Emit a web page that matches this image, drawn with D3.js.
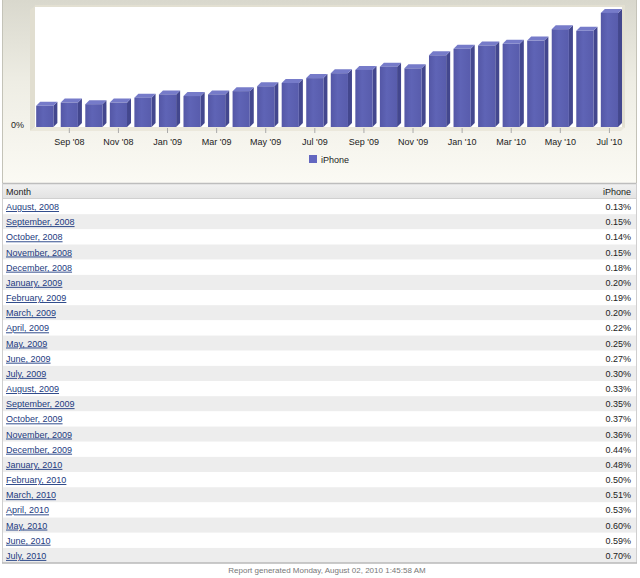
<!DOCTYPE html>
<html>
<head>
<meta charset="utf-8">
<script src="https://cdn.jsdelivr.net/npm/d3@7"></script>
<style>
  body { margin: 0; background: #fff; }
  svg { display: block; font-family: Arial, "Liberation Sans", sans-serif; }
  .link { fill: #1c3a80; text-decoration: underline; }
</style>
</head>
<body>
<div id="target"></div>
<script>
const months = [
  'August, 2008', 'September, 2008', 'October, 2008', 'November, 2008', 'December, 2008',
  'January, 2009', 'February, 2009', 'March, 2009', 'April, 2009', 'May, 2009', 'June, 2009',
  'July, 2009', 'August, 2009', 'September, 2009', 'October, 2009', 'November, 2009',
  'December, 2009', 'January, 2010', 'February, 2010', 'March, 2010', 'April, 2010',
  'May, 2010', 'June, 2010', 'July, 2010',
];
const shortMonths = [
  "Aug '08", "Sep '08", "Oct '08", "Nov '08", "Dec '08", "Jan '09", "Feb '09", "Mar '09",
  "Apr '09", "May '09", "Jun '09", "Jul '09", "Aug '09", "Sep '09", "Oct '09", "Nov '09",
  "Dec '09", "Jan '10", "Feb '10", "Mar '10", "Apr '10", "May '10", "Jun '10", "Jul '10",
];
const tickLabels = [
  "Sep '08", "Nov '08", "Jan '09", "Mar '09", "May '09", "Jul '09",
  "Sep '09", "Nov '09", "Jan '10", "Mar '10", "May '10", "Jul '10",
];
const iphone = [
  0.13, 0.15, 0.14, 0.15, 0.18, 0.20, 0.19, 0.20, 0.22, 0.25, 0.27, 0.30,
  0.33, 0.35, 0.37, 0.36, 0.44, 0.48, 0.50, 0.51, 0.53, 0.60, 0.59, 0.70,
];
const seriesName = 'iPhone';
const footer = 'Report generated Monday, August 02, 2010 1:45:58 AM';

const width = 640;
const height = 578;
const base = 127;
const depth = 4;

const svg = d3.select('#target').append('svg').attr('width', width).attr('height', height);
const defs = svg.append('defs');

const bg = defs.append('linearGradient').attr('id', 'bg').attr('x1', 0).attr('y1', 0).attr('x2', 0).attr('y2', 1);
bg.append('stop').attr('offset', '0%').attr('stop-color', '#d9d8cd');
bg.append('stop').attr('offset', '45%').attr('stop-color', '#eeede4');
bg.append('stop').attr('offset', '100%').attr('stop-color', '#fbfaf4');

const front = defs.append('linearGradient').attr('id', 'front').attr('x1', 0).attr('y1', 0).attr('x2', 1).attr('y2', 0);
front.append('stop').attr('offset', '0%').attr('stop-color', '#5457a6');
front.append('stop').attr('offset', '40%').attr('stop-color', '#5f64b6');
front.append('stop').attr('offset', '100%').attr('stop-color', '#585cac');

const head = defs.append('linearGradient').attr('id', 'head').attr('x1', 0).attr('y1', 0).attr('x2', 0).attr('y2', 1);
head.append('stop').attr('offset', '0%').attr('stop-color', '#f2f2f2');
head.append('stop').attr('offset', '100%').attr('stop-color', '#e2e2e2');

// chart panel
svg.append('rect').attr('x', 2).attr('y', 0).attr('width', 634).attr('height', 183).attr('fill', 'url(#bg)');
svg.append('line').attr('x1', 2.5).attr('x2', 2.5).attr('y1', 0).attr('y2', 183).attr('stroke', '#c4c3b8');
svg.append('line').attr('x1', 636.5).attr('x2', 636.5).attr('y1', 0).attr('y2', 183).attr('stroke', '#c4c3b8');

const x = d3.scaleBand().domain(shortMonths).range([32.5, 621.7]).paddingInner(0.3).paddingOuter(0.15);
const y = d3.scaleLinear().domain([0, 0.73]).range([base, 8]);

// walls
svg.append('rect').attr('x', 35).attr('y', 5).attr('width', 590).attr('height', 123)
  .attr('fill', '#e3e0d2');
svg.append('rect').attr('x', 35).attr('y', 7).attr('width', 587).attr('height', 120).attr('fill', '#fff');
svg.append('polygon').attr('points', '30,10 35,6 35,127 30,131').attr('fill', '#e1ded0');
svg.append('polygon').attr('points', '30,131 35,127 625,127 621,131').attr('fill', '#ebe8dc');

const bars = svg.append('g').selectAll('g').data(iphone).enter().append('g');
bars.append('polygon')
  .attr('points', (d, i) => {
    const x0 = x(shortMonths[i]) + x.bandwidth();
    return [[x0, y(d)], [x0 + depth, y(d) - depth], [x0 + depth, base - depth], [x0, base]].join(' ');
  })
  .attr('fill', '#43478e');
bars.append('polygon')
  .attr('points', (d, i) => {
    const x0 = x(shortMonths[i]);
    const x1 = x0 + x.bandwidth();
    return [[x0, y(d)], [x0 + depth, y(d) - depth], [x1 + depth, y(d) - depth], [x1, y(d)]].join(' ');
  })
  .attr('fill', '#767bc9');
bars.append('rect')
  .attr('x', (d, i) => x(shortMonths[i]))
  .attr('y', (d) => y(d))
  .attr('width', x.bandwidth())
  .attr('height', (d) => base - y(d))
  .attr('fill', 'url(#front)');

// x axis
const xAxis = svg.append('g').attr('transform', `translate(0,${base + 1})`)
  .call(d3.axisBottom(x).tickValues(tickLabels).tickSize(5).tickSizeOuter(0));
xAxis.select('.domain').remove();
xAxis.selectAll('line').attr('stroke', '#aaa');
xAxis.selectAll('text').attr('font-size', 9).attr('fill', '#222').attr('dy', '0.95em');
xAxis.attr('font-family', null);

// y axis
const yAxis = svg.append('g').attr('transform', 'translate(27,0)')
  .call(d3.axisLeft(y).tickValues([0]).tickSize(0).tickFormat((d) => d + '%'));
yAxis.select('.domain').remove();
yAxis.selectAll('text').attr('font-size', 9).attr('fill', '#222').attr('dy', '0.1em');
yAxis.attr('font-family', null);

// legend
svg.append('rect').attr('x', 309).attr('y', 155).attr('width', 8).attr('height', 8).attr('fill', '#6367c0');
svg.append('text').attr('x', 321).attr('y', 162.5).attr('font-size', 9).attr('fill', '#222').text(seriesName);

// table
const tableTop = 183;
const headH = 16;
const rowH = 15.17;
svg.append('rect').attr('x', 2).attr('y', tableTop).attr('width', 635).attr('height', headH).attr('fill', 'url(#head)');
svg.append('line').attr('x1', 2).attr('x2', 637).attr('y1', tableTop + 0.5).attr('y2', tableTop + 0.5).attr('stroke', '#bdbdbd').attr('stroke-width', 1.5);
svg.append('line').attr('x1', 2).attr('x2', 637).attr('y1', tableTop + headH - 0.5).attr('y2', tableTop + headH - 0.5).attr('stroke', '#d0d0d0');
svg.append('text').attr('x', 6).attr('y', tableTop + 11.5).attr('font-size', 9).attr('fill', '#222').text('Month');
svg.append('text').attr('x', 631).attr('y', tableTop + 11.5).attr('font-size', 9).attr('fill', '#222')
  .attr('text-anchor', 'end').text(seriesName);

const rows = svg.append('g').selectAll('g').data(months).enter().append('g')
  .attr('transform', (d, i) => `translate(0,${tableTop + headH + i * rowH})`);
rows.append('rect').attr('x', 2).attr('width', 635).attr('height', rowH)
  .attr('fill', (d, i) => (i % 2 ? '#ededed' : '#fff'));
rows.append('text').attr('class', 'link').attr('x', 6).attr('y', 11).attr('font-size', 9).text((d) => d);
rows.append('text').attr('x', 631).attr('y', 11).attr('font-size', 9).attr('fill', '#222')
  .attr('text-anchor', 'end').text((d, i) => iphone[i].toFixed(2) + '%');

const bottom = tableTop + headH + months.length * rowH;
svg.append('line').attr('x1', 2.5).attr('x2', 2.5).attr('y1', tableTop).attr('y2', bottom).attr('stroke', '#cfcfcf');
svg.append('line').attr('x1', 636.5).attr('x2', 636.5).attr('y1', tableTop).attr('y2', bottom).attr('stroke', '#cfcfcf');
svg.append('line').attr('x1', 2).attr('x2', 637).attr('y1', bottom).attr('y2', bottom).attr('stroke', '#b8b8b8').attr('stroke-width', 1.5);

svg.append('text').attr('x', 327).attr('y', bottom + 10).attr('font-size', 8).attr('fill', '#777')
  .attr('text-anchor', 'middle').text(footer);
</script>
</body>
</html>
